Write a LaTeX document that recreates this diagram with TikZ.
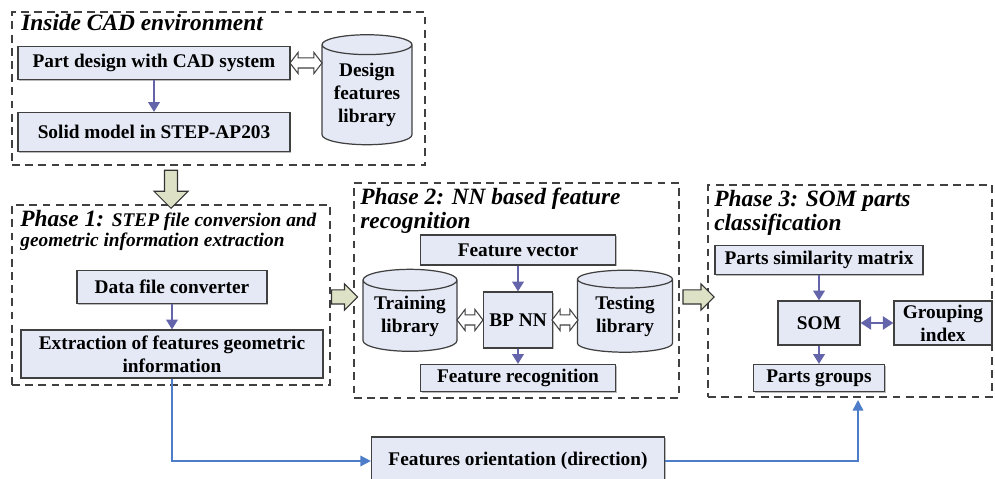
\documentclass[tikz,border=0pt]{standalone}
\usepackage{fontspec}
\setmainfont{Liberation Serif}
\usetikzlibrary{positioning, shapes.geometric, shapes.arrows, arrows.meta, shadows}

\definecolor{boxfill}{HTML}{E4E9F5}
\definecolor{hollowfill}{HTML}{DDE2C6}
\definecolor{flowpurple}{HTML}{6464AA}
\definecolor{orientblue}{HTML}{4D7CC8}

\newcommand{\phsub}{\bfseries\itshape\fontsize{11}{13}\selectfont}

\tikzset{
  box/.style={draw=black!75, fill=boxfill, line width=0.7pt, inner sep=0pt, align=center,
    font=\bfseries\fontsize{11}{13}\selectfont,
    drop shadow={shadow xshift=0.7pt, shadow yshift=-0.7pt, fill=black!45, opacity=0.6}},
  lib/.style={cylinder, shape border rotate=90, aspect=0.3, draw=black!75, fill=boxfill,
    line width=0.7pt, inner sep=0pt, align=center, font=\bfseries\fontsize{11}{13}\selectfont},
  frame/.style={draw=black!75, line width=0.7pt, dash pattern=on 4.5pt off 3pt, inner sep=0pt},
  title/.style={anchor=north west, inner sep=0pt, align=left,
    font=\bfseries\itshape\fontsize{13.3}{13.5}\selectfont},
  bigarrow/.style={single arrow, draw=black!80, fill=hollowfill, line width=0.6pt,
    inner xsep=0pt, single arrow tip angle=90},
  twoway/.style={double arrow, draw=black!75, fill=white, line width=0.6pt,
    inner xsep=0pt, inner ysep=0.09cm, double arrow tip angle=105, double arrow head extend=0.11cm},
  flow/.style={draw=flowpurple, line width=1.1pt, -{Triangle[length=5.5pt, width=6.5pt]}},
  orient/.style={draw=orientblue, line width=0.9pt, -{Triangle[length=6pt, width=6pt]}}
}

\begin{document}
\begin{tikzpicture}[x=0.02cm, y=-0.02cm]
  \useasboundingbox (0,0) rectangle (995,479);

  % Frames
  \node[frame, minimum width=8.26cm, minimum height=3.06cm] (cadenv) at (218.5,88.5) {};
  \node[frame, minimum width=6.36cm, minimum height=3.6cm] (ph1) at (171,295) {};
  \node[frame, minimum width=6.5cm, minimum height=4.3cm] (ph2) at (516.5,290.5) {};
  \node[frame, minimum width=5.68cm, minimum height=4.24cm] (ph3) at (850,291) {};

  % Titles
  \node[title] (cadtitle) at (21,14) {Inside CAD environment};
  \node[title] (ph1title) at (20,210) {Phase 1: {\phsub STEP file conversion and}\\[-2pt]
    {\phsub geometric information extraction}};
  \node[title] (ph2title) at (360,188) {Phase 2: NN based feature\\recognition};
  \node[title] (ph3title) at (714,190) {Phase 3: SOM parts\\classification};

  % Inside CAD environment
  \node[box, minimum width=5.44cm, minimum height=0.66cm] (part) at (154,63) {Part design with CAD system};
  \node[box, minimum width=5.44cm, minimum height=0.78cm] (solid) at (154,132) {Solid model in STEP-AP203};
  \node[lib, minimum width=1.8cm, minimum height=2.2cm] (dfl) at (367,95) {Design\\features\\library};

  % Phase 1
  \node[box, minimum width=3.8cm, minimum height=0.66cm] (dfc) at (172,287) {Data file converter};
  \node[box, minimum width=6.04cm, minimum height=0.96cm] (extr) at (172,354) {Extraction of features geometric\\information};

  % Phase 2
  \node[box, minimum width=3.9cm, minimum height=0.6cm] (fvec) at (518,250) {Feature vector};
  \node[box, minimum width=1.38cm, minimum height=1.12cm] (bpnn) at (518,320) {BP NN};
  \node[box, minimum width=3.9cm, minimum height=0.54cm] (frec) at (518,378) {Feature recognition};
  \node[lib, minimum width=1.88cm, minimum height=1.64cm] (train) at (410,316) {Training\\library};
  \node[lib, minimum width=1.9cm, minimum height=1.64cm] (test) at (625,316) {Testing\\library};

  % Phase 3
  \node[box, minimum width=4.16cm, minimum height=0.58cm] (psm) at (819,260) {Parts similarity matrix};
  \node[box, minimum width=1.64cm, minimum height=0.88cm] (som) at (819,323) {SOM};
  \node[box, minimum width=1.96cm, minimum height=0.88cm] (grp) at (943,323) {Grouping\\index};
  \node[box, minimum width=2.62cm, minimum height=0.54cm] (pg) at (819,378) {Parts groups};

  % Orientation
  \node[box, minimum width=5.86cm, minimum height=0.96cm] (fo) at (518,461) {Features orientation (direction)};
  \coordinate (p3in) at (858,400);

  % Hollow arrows between the stages
  \node[bigarrow, rotate=-90, minimum height=0.76cm, inner ysep=0.12cm,
    single arrow head extend=0.21cm] (down) at (171,186) {};
  \node[bigarrow, minimum height=0.52cm, inner ysep=0.13cm,
    single arrow head extend=0.12cm] (p1p2) at (341,297) {};
  \node[bigarrow, minimum height=0.62cm, inner ysep=0.13cm,
    single arrow head extend=0.12cm] (p2p3) at (695,297) {};

  % Two-way links with the libraries
  \node[twoway, minimum height=0.64cm] (linkdfl) at (306,63) {};
  \node[twoway, minimum height=0.52cm] (linktrain) at (470,320) {};
  \node[twoway, minimum height=0.52cm] (linktest) at (565,320) {};

  % Flow inside the stages
  \foreach \a/\b in {part/solid, dfc/extr, fvec/bpnn, bpnn/frec, psm/som, som/pg}
    \draw[flow] (\a.south) -- (\b.north);
  \draw[flow, {Triangle[length=6pt, width=7.5pt]}-{Triangle[length=6pt, width=7.5pt]}] (som) -- (grp);

  % Orientation path
  \draw[orient] (extr.south) |- (fo.west);
  \draw[orient] (fo.east) -| (p3in);
\end{tikzpicture}
\end{document}
